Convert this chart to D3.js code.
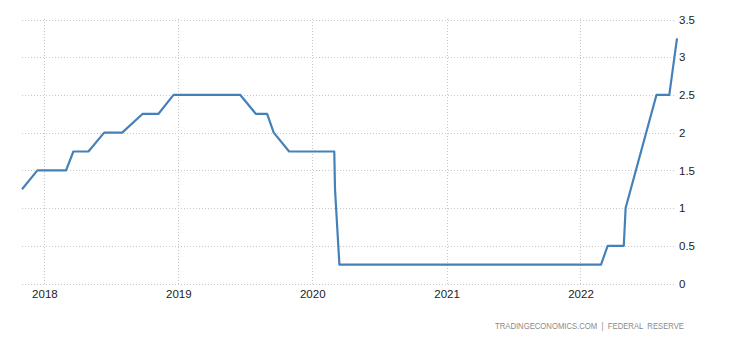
<!DOCTYPE html>
<html>
<head>
<meta charset="utf-8">
<script src="https://cdn.jsdelivr.net/npm/d3@7"></script>
<style>
  body { margin: 0; background: #fff; }
  svg { display: block; font-family: "Liberation Sans", Arial, sans-serif; }
  .grid line { stroke: #c8c8c8; stroke-dasharray: 1,2; shape-rendering: crispEdges; }
  .axis text { fill: #222; font-size: 11.5px; }
  .source { fill: #8a8a8a; font-size: 9px; }
</style>
</head>
<body>
<svg class="chart" width="730" height="340"></svg>
<script>
// fed funds rate, upper bound
var dates = ["2017-11-01", "2017-12-13", "2018-03-01", "2018-03-21", "2018-05-01", "2018-06-13",
  "2018-08-01", "2018-09-26", "2018-11-08", "2018-12-19", "2019-06-19", "2019-07-31",
  "2019-08-31", "2019-09-18", "2019-10-30", "2020-03-01", "2020-03-03", "2020-03-15",
  "2022-02-26", "2022-03-16", "2022-04-29", "2022-05-04", "2022-06-15", "2022-07-27",
  "2022-08-31", "2022-09-21"];
var rates = [1.25, 1.5, 1.5, 1.75, 1.75, 2, 2, 2.25, 2.25, 2.5, 2.5, 2.25,
  2.25, 2, 1.75, 1.75, 1.25, 0.25, 0.25, 0.5, 0.5, 1, 1.75, 2.5, 2.5, 3.25];
var yTicks = [0, 0.5, 1, 1.5, 2, 2.5, 3, 3.5];
var yearTicks = ["2018", "2019", "2020", "2021", "2022"];
var sourceText = "TRADINGECONOMICS.COM  |  FEDERAL  RESERVE";

var parse = d3.timeParse("%Y-%m-%d");
var data = dates.map(function(d, i) { return {date: parse(d), value: rates[i]}; });

var svg = d3.select(".chart");

var x = d3.scaleTime()
    .domain(d3.extent(data, function(d) { return d.date; }))
    .range([22, 677]);
var y = d3.scaleLinear().domain([0, 3.5]).range([283.5, 19.5]);

var years = yearTicks.map(function(t) { return d3.timeParse("%Y")(t); });

// horizontal grid
svg.append("g")
    .attr("class", "grid")
    .selectAll("line")
    .data(yTicks)
    .enter().append("line")
        .attr("x1", 22)
        .attr("x2", 675)
        .attr("y1", function(d) { return Math.round(y(d)) + 0.5; })
        .attr("y2", function(d) { return Math.round(y(d)) + 0.5; });

// vertical grid
svg.append("g")
    .attr("class", "grid")
    .selectAll("line")
    .data(years)
    .enter().append("line")
        .attr("x1", function(d) { return Math.round(x(d)) + 0.5; })
        .attr("x2", function(d) { return Math.round(x(d)) + 0.5; })
        .attr("y1", 19)
        .attr("y2", 286);

// y axis on the right, no line
var yAxis = svg.append("g")
    .attr("class", "axis")
    .attr("transform", "translate(679,0)")
    .call(d3.axisRight(y).tickValues(yTicks).tickSize(0).tickPadding(0)
        .tickFormat(function(d) { return d; }));
yAxis.select(".domain").remove();

var xAxis = svg.append("g")
    .attr("class", "axis")
    .attr("transform", "translate(0,286)")
    .call(d3.axisBottom(x).tickValues(years).tickSize(0).tickPadding(4)
        .tickFormat(d3.timeFormat("%Y")));
xAxis.select(".domain").remove();
svg.selectAll(".axis text").attr("font-family", null).attr("font-size", null);

var line = d3.line()
    .x(function(d) { return x(d.date); })
    .y(function(d) { return y(d.value); });

svg.append("path")
    .datum(data)
    .attr("fill", "none")
    .attr("stroke", "#4581b9")
    .attr("stroke-width", 2.2)
    .attr("stroke-linejoin", "round")
    .attr("d", line);

svg.append("text")
    .attr("class", "source")
    .attr("x", 684)
    .attr("y", 329)
    .attr("text-anchor", "end")
    .attr("textLength", 189)
    .attr("lengthAdjust", "spacingAndGlyphs")
    .attr("xml:space", "preserve")
    .style("white-space", "pre")
    .text(sourceText);
</script>
</body>
</html>
